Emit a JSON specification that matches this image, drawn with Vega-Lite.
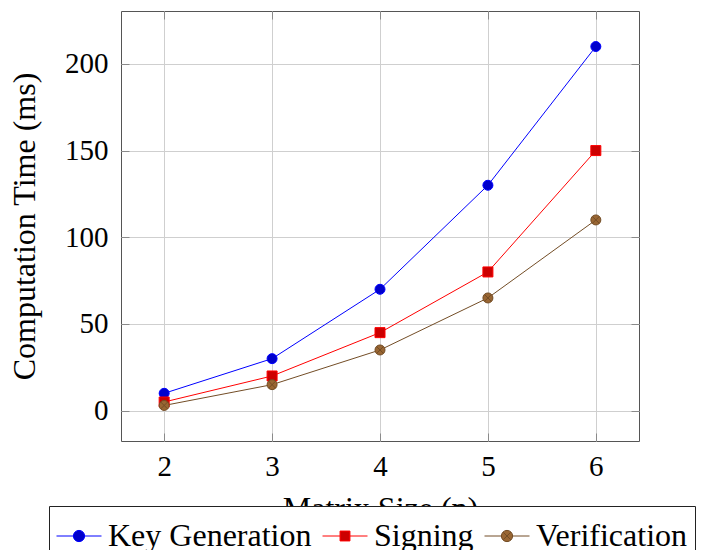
{
  "$schema": "https://vega.github.io/schema/vega-lite/v6.json",
  "width": 518,
  "height": 430,
  "autosize": {"type": "none"},
  "padding": {"left": 121, "top": 11, "right": 64, "bottom": 109},
  "background": "white",
  "config": {
    "font": "Liberation Serif",
    "view": {"stroke": "#555", "strokeWidth": 1},
    "axis": {
      "labelFont": "Liberation Serif",
      "titleFont": "Liberation Serif",
      "labelColor": "black",
      "titleColor": "black",
      "titleFontWeight": "normal",
      "labelFontSize": 29,
      "titleFontSize": 32,
      "domain": false,
      "tickColor": "#8a8a8a",
      "tickWidth": 1,
      "tickSize": -8,
      "gridColor": "#cfcfcf",
      "gridWidth": 1
    },
    "legend": {
      "orient": "none", "legendX": -72, "legendY": 495,
      "direction": "horizontal", "title": null,
      "symbolSize": 2025, "symbolStrokeWidth": 1,
      "labelFont": "Liberation Serif", "labelFontSize": 32, "labelColor": "black", "labelLimit": 400,
      "labelOffset": 6, "columnPadding": 8,
      "padding": 7, "strokeColor": "#222", "fillColor": "white"
    }
  },
  "data": {
    "values": [
      {"series": "Key Generation", "n": 2, "time": 10},
      {"series": "Key Generation", "n": 3, "time": 30},
      {"series": "Key Generation", "n": 4, "time": 70},
      {"series": "Key Generation", "n": 5, "time": 130},
      {"series": "Key Generation", "n": 6, "time": 210},
      {"series": "Signing", "n": 2, "time": 5},
      {"series": "Signing", "n": 3, "time": 20},
      {"series": "Signing", "n": 4, "time": 45},
      {"series": "Signing", "n": 5, "time": 80},
      {"series": "Signing", "n": 6, "time": 150},
      {"series": "Verification", "n": 2, "time": 3},
      {"series": "Verification", "n": 3, "time": 15},
      {"series": "Verification", "n": 4, "time": 35},
      {"series": "Verification", "n": 5, "time": 65},
      {"series": "Verification", "n": 6, "time": 110}
    ]
  },
  "resolve": {
    "scale": {"shape": "independent", "fill": "independent", "stroke": "independent", "color": "independent"},
    "legend": {"shape": "independent", "fill": "independent", "stroke": "independent", "color": "independent"},
    "axis": {"x": "independent", "y": "independent"}
  },
  "layer": [
    {
      "mark": {"type": "line", "strokeWidth": 1},
      "encoding": {
        "x": {
          "field": "n", "type": "quantitative",
          "scale": {"domain": [1.6, 6.4], "nice": false, "zero": false},
          "axis": {"orient": "bottom", "values": [2, 3, 4, 5, 6], "grid": true, "title": "Matrix Size (n)", "labelPadding": 19, "titlePadding": 12}
        },
        "y": {
          "field": "time", "type": "quantitative",
          "scale": {"domain": [-17.5, 230.5], "nice": false, "zero": false},
          "axis": {"orient": "left", "values": [0, 50, 100, 150, 200], "grid": true, "title": "Computation Time (ms)", "labelPadding": 21, "titlePadding": 23}
        },
        "color": {
          "field": "series", "type": "nominal",
          "scale": {"domain": ["Key Generation", "Signing", "Verification"], "range": ["#0000ff", "#ff0000", "#734d26"]},
          "legend": null
        }
      }
    },
    {
      "mark": {"type": "point", "filled": true, "size": 100, "strokeWidth": 1, "opacity": 1},
      "encoding": {
        "x": {"field": "n", "type": "quantitative", "axis": null},
        "y": {"field": "time", "type": "quantitative", "axis": null},
        "fill": {
          "field": "series", "type": "nominal",
          "scale": {"domain": ["Key Generation", "Signing", "Verification"], "range": ["#0000cc", "#cc0000", "#996633"]},
          "legend": null
        },
        "stroke": {
          "field": "series", "type": "nominal",
          "scale": {"domain": ["Key Generation", "Signing", "Verification"], "range": ["#0000ff", "#ff0000", "#734d26"]},
          "legend": null
        },
        "shape": {
          "field": "series", "type": "nominal",
          "scale": {"domain": ["Key Generation", "Signing", "Verification"], "range": ["circle", "square", "circle"]},
          "legend": null
        }
      }
    },
    {
      "transform": [{"filter": "datum.series === 'Verification'"}],
      "mark": {"type": "point", "filled": false, "size": 100, "strokeWidth": 1, "stroke": "#734d26", "opacity": 1, "shape": "M-0.7,-0.7L0.7,0.7M-0.7,0.7L0.7,-0.7"},
      "encoding": {
        "x": {"field": "n", "type": "quantitative", "axis": {"orient": "top", "values": [2, 3, 4, 5, 6], "labels": false, "title": null, "grid": false}},
        "y": {"field": "time", "type": "quantitative", "axis": {"orient": "right", "values": [0, 50, 100, 150, 200], "labels": false, "title": null, "grid": false}}
      }
    },
    {
      "transform": [{"filter": "datum.n > 100"}],
      "mark": {"type": "point", "filled": true, "opacity": 1, "strokeWidth": 1},
      "encoding": {
        "x": {"field": "n", "type": "quantitative", "axis": null},
        "y": {"field": "time", "type": "quantitative", "axis": null},
        "fill": {
          "field": "series", "type": "nominal",
          "scale": {"domain": ["Key Generation", "Signing", "Verification"], "range": ["#0000cc", "#cc0000", "#996633"]}
        },
        "stroke": {
          "field": "series", "type": "nominal",
          "scale": {"domain": ["Key Generation", "Signing", "Verification"], "range": ["#0000ff", "#ff0000", "#734d26"]}
        },
        "shape": {
          "field": "series", "type": "nominal",
          "scale": {"domain": ["Key Generation", "Signing", "Verification"], "range": ["M-1,0H-0.25M0.25,0H1M0.25,0A0.25,0.25,0,1,1,-0.25,0A0.25,0.25,0,1,1,0.25,0Z", "M-1,0H-0.22M0.22,0H1M-0.22,-0.22H0.22V0.22H-0.22Z", "M-1,0H-0.25M0.25,0H1M0.25,0A0.25,0.25,0,1,1,-0.25,0A0.25,0.25,0,1,1,0.25,0ZM-0.16,-0.16L0.16,0.16M-0.16,0.16L0.16,-0.16"]}
        }
      }
    }
  ]
}
